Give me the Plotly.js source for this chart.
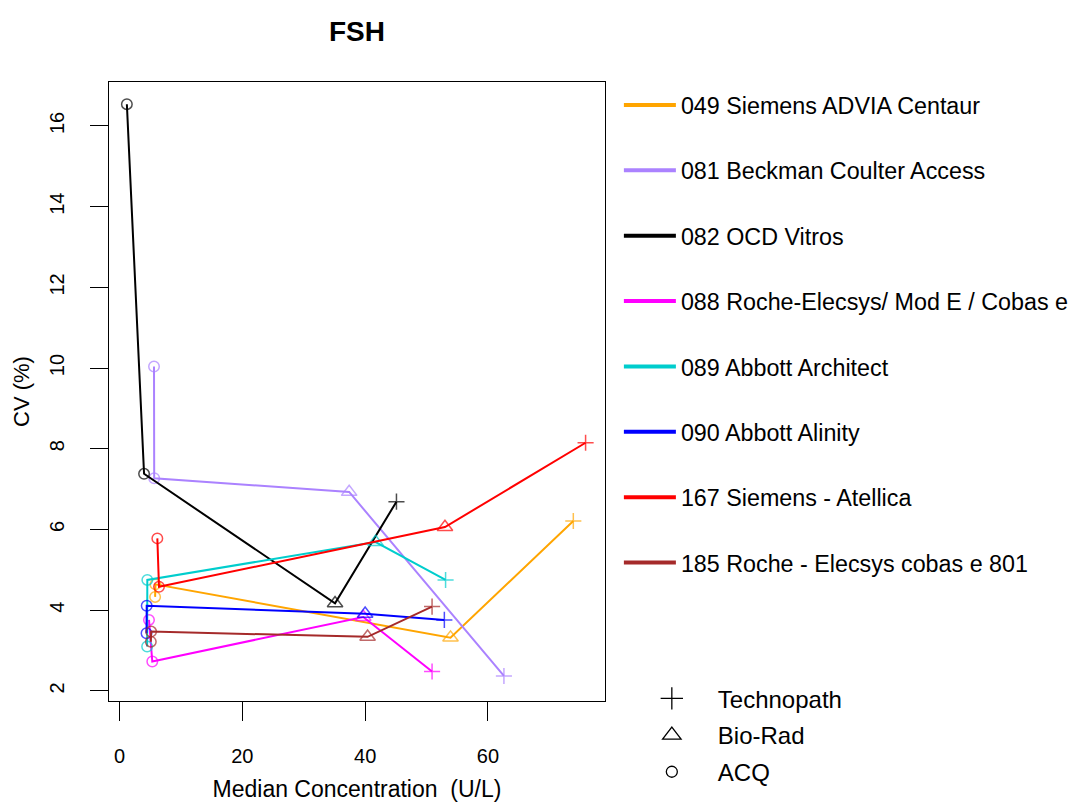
<!DOCTYPE html>
<html>
<head>
<meta charset="utf-8">
<script src="https://cdn.plot.ly/plotly-3.0.1.min.js"></script>
<style>html,body{margin:0;padding:0;background:#fff;}#chart{width:1072px;height:802px;}</style>
</head>
<body>
<div id="chart"></div>
<script>
// Point order per instrument: ACQ, ACQ, Bio-Rad, Technopath (joined in this order)
const sources = ["ACQ", "ACQ", "Bio-Rad", "Technopath"];
const instruments = [
  "049 Siemens ADVIA Centaur",
  "081 Beckman Coulter Access",
  "082 OCD Vitros",
  "088 Roche-Elecsys/ Mod E / Cobas e",
  "089 Abbott Architect",
  "090 Abbott Alinity",
  "167 Siemens - Atellica",
  "185 Roche - Elecsys cobas e 801"
];
const colors = ["#FFA500", "#AB82FF", "#000000", "#FF00FF", "#00CDCD", "#0000FF", "#FF0000", "#A52A2A"];

// Median concentration (U/L)
const x049 = [5.8, 5.85, 53.9, 73.9];
const x081 = [5.62, 5.65, 37.4, 62.6];
const x082 = [1.2, 4.0, 35.1, 45.1];
const x088 = [4.8, 5.34, 39.7, 50.9];
const x089 = [4.5, 4.53, 41.7, 53.1];
const x090 = [4.4, 4.43, 40.0, 52.9];
const x167 = [6.16, 6.43, 53.0, 75.9];
const x185 = [5.1, 5.15, 40.4, 50.9];
// CV (%)
const y049 = [4.33, 4.64, 3.32, 6.21];
const y081 = [10.04, 7.27, 6.93, 2.37];
const y082 = [16.54, 7.38, 4.17, 6.69];
const y088 = [3.76, 2.73, 3.83, 2.48];
const y089 = [3.10, 4.75, 5.69, 4.75];
const y090 = [3.43, 4.11, 3.91, 3.76];
const y167 = [5.78, 4.58, 6.06, 8.15];
const y185 = [3.22, 3.47, 3.34, 4.09];

const xTicks = [0, 20, 40, 60];
const yTicks = [2, 4, 6, 8, 10, 12, 14, 16];

const xs = [x049, x081, x082, x088, x089, x090, x167, x185];
const ys = [y049, y081, y082, y088, y089, y090, y167, y185];
const symbolFor = {"Technopath": "cross-thin-open", "Bio-Rad": "triangle-up-open", "ACQ": "circle-open"};
const sizeFor = {"Technopath": 11.5, "Bio-Rad": 13.5, "ACQ": 10.5};

const FONT = "Liberation Sans, Arial, sans-serif";
const traces = [];
instruments.forEach((name, i) => {
  traces.push({
    type: "scatter", mode: "lines+markers", x: xs[i], y: ys[i], name: name,
    showlegend: false, hoverinfo: "x+y+name",
    line: {color: colors[i], width: 2},
    marker: {symbol: sources.map(s => symbolFor[s]), size: sources.map(s => sizeFor[s]),
             color: colors[i], line: {color: colors[i], width: 1.5}}
  });
});
// legend entries for instruments
instruments.forEach((name, i) => {
  traces.push({
    type: "scatter", mode: "lines", x: [null], y: [null], name: name,
    legend: "legend", legendgroup: "g" + i, showlegend: true,
    line: {color: colors[i], width: 4}
  });
});
// legend entries for sources
const srcLegend = ["Technopath", "Bio-Rad", "ACQ"];
const srcLegendSize = {"Technopath": 16, "Bio-Rad": 16, "ACQ": 11};
srcLegend.forEach((s, i) => {
  traces.push({
    type: "scatter", mode: "markers", x: [null], y: [null], name: s,
    legend: "legend2", legendgroup: "s" + i, showlegend: true,
    marker: {symbol: symbolFor[s], size: srcLegendSize[s], color: "#000", line: {color: "#000", width: 1.3}}
  });
});

const layout = {
  width: 1072, height: 802,
  margin: {l: 109, r: 467, t: 82, b: 101, autoexpand: false},
  paper_bgcolor: "#fff", plot_bgcolor: "#fff",
  font: {family: FONT, color: "#000", size: 20},
  title: {text: "<b>FSH</b>", font: {family: FONT, size: 28, color: "#000"},
          xref: "paper", x: 0.5, xanchor: "center", yref: "container", y: 1 - 31 / 802, yanchor: "middle"},
  xaxis: {
    range: [-1.71, 79.06], tickvals: xTicks, ticktext: xTicks.map(String),
    ticks: "outside", ticklen: 19, tickwidth: 1, tickcolor: "#000",
    showline: true, mirror: true, linecolor: "#000", linewidth: 1,
    showgrid: false, zeroline: false, tickfont: {size: 20},
    ticklabelstandoff: 18,
    title: {text: "Median Concentration\u00a0\u00a0(U/L)", font: {size: 23}, standoff: 16}
  },
  yaxis: {
    range: [1.75, 17.09], tickvals: yTicks, ticktext: yTicks.map(String),
    ticks: "outside", ticklen: 18, tickwidth: 1, tickcolor: "#000", tickangle: -90,
    showline: true, mirror: true, linecolor: "#000", linewidth: 1,
    showgrid: false, zeroline: false, tickfont: {size: 20},
    ticklabelstandoff: 18,
    title: {text: "CV (%)", font: {size: 22}, standoff: 10}
  },
  legend: {
    x: 1.028, xanchor: "left", y: 0.998, yanchor: "top",
    font: {size: 23.3}, tracegroupgap: 32.1, itemwidth: 52, bgcolor: "rgba(0,0,0,0)",
    traceorder: "grouped"
  },
  legend2: {
    x: 1.042, xanchor: "left", y: 0.04, yanchor: "top",
    font: {size: 24}, tracegroupgap: 2.5, itemwidth: 82, bgcolor: "rgba(0,0,0,0)",
    traceorder: "grouped"
  },
  showlegend: true
};

Plotly.newPlot("chart", traces, layout, {displayModeBar: false, staticPlot: true});
</script>
</body>
</html>
